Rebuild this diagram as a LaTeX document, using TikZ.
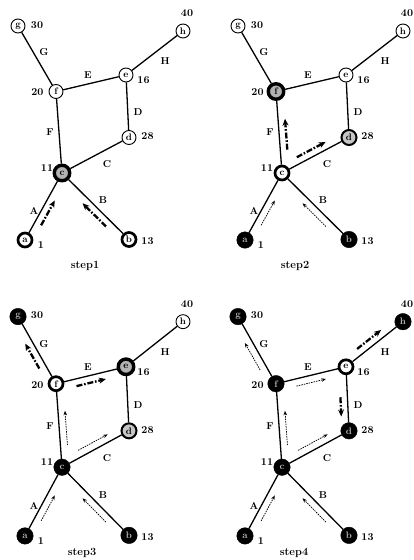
\documentclass[tikz,border=0pt]{standalone}
\usetikzlibrary{calc,arrows.meta}
\tikzset{
 base/.style={circle, inner sep=0pt, font=\fontsize{9.5}{9.5}\selectfont\bfseries},
 plain/.style={base, draw, line width=0.9pt, minimum size=14pt, fill=white},
 cur/.style={base, draw, line width=2.7pt, minimum size=14pt, fill=white},
 tentA/.style={base, draw, line width=3.4pt, minimum size=15.5pt, fill=gray!60},
 tentB/.style={base, draw, line width=2pt, minimum size=15pt, fill=gray!45},
 done/.style={base, draw, fill=black, minimum size=16.5pt, text=gray!55},
 edge/.style={line width=1.3pt},
 elab/.style={font=\fontsize{10}{10}\selectfont\bfseries, inner sep=1pt},
 num/.style={font=\fontsize{10.5}{10.5}\selectfont\bfseries, inner sep=1pt},
 active/.style={line width=2.3pt, dash pattern=on 6pt off 1.8pt on 1.6pt off 1.8pt, -{Stealth[length=7pt,width=6pt]}},
 past/.style={line width=0.75pt, dash pattern=on 1.5pt off 1pt, -{Stealth[length=4.5pt,width=3.5pt]}},
 steplab/.style={font=\fontsize{11}{11}\selectfont\bfseries},
}
% #1 style, #2 from, #3 to, #4 side angle, #5 start, #6 end
\newcommand\flow[6]{\draw[#1] ($(#2)!#5!(#3)!7pt!#4:(#3)$) -- ($(#2)!#6!(#3)!7pt!#4:(#3)$);}
% #1 prefix, #2..#9 styles of a..h
\newcommand\mygraph[9]{%
 \node[#2] (#1a) at (25,240) {a};
 \node[#3] (#1b) at (129,239.5) {b};
 \node[#4] (#1c) at (62,173) {c};
 \node[#5] (#1d) at (129,137.5) {d};
 \node[#6] (#1e) at (126,75) {e};
 \node[#7] (#1f) at (56,91.5) {f};
 \node[#8] (#1g) at (18,26) {g};
 \node[#9] (#1h) at (183,31) {h};
 \draw[edge] (#1a) -- (#1c);
 \draw[edge] (#1b) -- (#1c);
 \draw[edge] (#1c) -- (#1d);
 \draw[edge] (#1c) -- (#1f);
 \draw[edge] (#1d) -- (#1e);
 \draw[edge] (#1e) -- (#1f);
 \draw[edge] (#1f) -- (#1g);
 \draw[edge] (#1e) -- (#1h);
 \node[elab] (#1LG) at (44,52.5) {G};
 \node[elab] (#1LE) at (88,75.5) {E};
 \node[elab] (#1LH) at (165,61) {H};
 \node[elab] (#1LD) at (138,112) {D};
 \node[elab] (#1LF) at (50,132.5) {F};
 \node[elab] (#1LC) at (107,164) {C};
 \node[elab] (#1LA) at (34,211) {A};
 \node[elab] (#1LB) at (103,200.5) {B};
 \node[num, xshift=19pt, yshift=1pt] (#1Ng) at (#1g) {30};
 \node[num, xshift=4pt, yshift=18pt] (#1Nh) at (#1h) {40};
 \node[num, xshift=17.5pt, yshift=-5pt] (#1Ne) at (#1e) {16};
 \node[num, xshift=-18.5pt, yshift=-1pt] (#1Nf) at (#1f) {20};
 \node[num, xshift=18.5pt, yshift=1pt] (#1Nd) at (#1d) {28};
 \node[num, xshift=-15pt, yshift=5pt] (#1Nc) at (#1c) {11};
 \node[num, xshift=16pt, yshift=-5pt] (#1Na) at (#1a) {1};
 \node[num, xshift=18.5pt, yshift=-2pt] (#1Nb) at (#1b) {13};
}
\begin{document}
\begin{tikzpicture}[x=1pt,y=-1pt]
\useasboundingbox (0,0) rectangle (414,560);
% step 1
\begin{scope}
 \mygraph{s1}{cur}{cur}{tentA}{plain}{plain}{plain}{plain}{plain}
 \flow{active}{s1a}{s1c}{-90}{0.27}{0.64}
 \flow{active}{s1b}{s1c}{90}{0.27}{0.62}
\end{scope}
% step 2
\begin{scope}[shift={(220,0)}]
 \mygraph{s2}{done}{done}{cur}{tentB}{plain}{tentA}{plain}{plain}
 \flow{past}{s2a}{s2c}{-90}{0.27}{0.64}
 \flow{past}{s2b}{s2c}{90}{0.27}{0.62}
 \flow{active}{s2c}{s2f}{-90}{0.28}{0.66}
 \flow{active}{s2c}{s2d}{90}{0.27}{0.70}
\end{scope}
% step 3
\begin{scope}[shift={(0,289.9)}, yscale=1.025]
 \mygraph{s3}{done}{done}{done}{tentB}{tentA}{cur}{done}{plain}
 \flow{past}{s3a}{s3c}{-90}{0.27}{0.64}
 \flow{past}{s3b}{s3c}{90}{0.27}{0.62}
 \flow{past}{s3c}{s3f}{-90}{0.26}{0.67}
 \flow{past}{s3c}{s3d}{90}{0.29}{0.73}
 \flow{active}{s3f}{s3g}{90}{0.28}{0.65}
 \flow{active}{s3f}{s3e}{-90}{0.27}{0.69}
\end{scope}
% step 4
\begin{scope}[shift={(220,289.9)}, yscale=1.025]
 \mygraph{s4}{done}{done}{done}{done}{cur}{done}{done}{done}
 \flow{past}{s4a}{s4c}{-90}{0.27}{0.64}
 \flow{past}{s4b}{s4c}{90}{0.27}{0.62}
 \flow{past}{s4c}{s4f}{-90}{0.26}{0.67}
 \flow{past}{s4c}{s4d}{90}{0.29}{0.73}
 \flow{past}{s4f}{s4g}{90}{0.26}{0.66}
 \flow{past}{s4f}{s4e}{-90}{0.27}{0.69}
 \flow{active}{s4e}{s4h}{90}{0.27}{0.69}
 \flow{active}{s4e}{s4d}{-90}{0.47}{0.77}
\end{scope}
\node[steplab] (t1) at (85,266) {step1};
\node[steplab] (t2) at (295,266) {step2};
\node[steplab] (t3) at (82,553) {step3};
\node[steplab] (t4) at (294,553) {step4};
\end{tikzpicture}
\end{document}
